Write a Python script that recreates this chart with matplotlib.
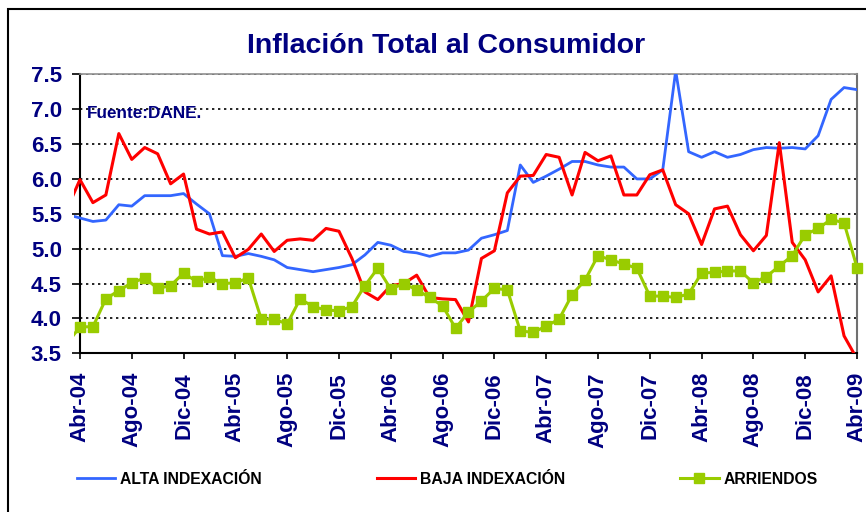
import matplotlib
matplotlib.use("Agg")
import matplotlib.pyplot as plt
from matplotlib.lines import Line2D
from matplotlib.patches import Rectangle
import numpy as np

plt.rcParams['font.family'] = ['Liberation Sans', 'DejaVu Sans']

# Mar-04 value (partly visible at the left edge), then Abr-04 .. Abr-09
pre_alta, pre_baja, pre_arriendos = 5.49, 5.57, 3.64

alta = [5.44, 5.39, 5.41, 5.63, 5.61, 5.76, 5.76, 5.76, 5.79, 5.64, 5.50, 4.90,
        4.89, 4.93, 4.89, 4.84, 4.73, 4.70, 4.67, 4.70, 4.73, 4.77, 4.91, 5.09,
        5.05, 4.96, 4.94, 4.89, 4.94, 4.94, 4.98, 5.15, 5.20, 5.26, 6.20, 5.95,
        6.04, 6.14, 6.25, 6.25, 6.20, 6.17, 6.17, 6.00, 6.00, 6.13, 7.55, 6.39,
        6.31, 6.39, 6.31, 6.35, 6.42, 6.45, 6.44, 6.45, 6.43, 6.62, 7.14, 7.31,
        7.28]
baja = [5.99, 5.66, 5.77, 6.65, 6.28, 6.45, 6.36, 5.93, 6.07, 5.28, 5.21, 5.24,
        4.87, 4.99, 5.21, 4.96, 5.12, 5.14, 5.12, 5.29, 5.25, 4.86, 4.38, 4.27,
        4.47, 4.50, 4.62, 4.30, 4.28, 4.27, 3.95, 4.86, 4.97, 5.80, 6.04, 6.05,
        6.35, 6.31, 5.77, 6.38, 6.26, 6.33, 5.77, 5.77, 6.06, 6.13, 5.63, 5.50,
        5.06, 5.57, 5.61, 5.20, 4.97, 5.19, 6.52, 5.09, 4.84, 4.38, 4.61, 3.75,
        3.42]
arriendos = [3.88, 3.88, 4.28, 4.40, 4.51, 4.58, 4.43, 4.47, 4.65, 4.53, 4.59, 4.50,
             4.51, 4.58, 3.99, 3.99, 3.92, 4.28, 4.17, 4.12, 4.11, 4.17, 4.47, 4.72,
             4.42, 4.50, 4.41, 4.30, 4.18, 3.86, 4.09, 4.25, 4.43, 4.41, 3.82, 3.80,
             3.89, 3.99, 4.34, 4.55, 4.90, 4.84, 4.78, 4.72, 4.32, 4.32, 4.30, 4.35,
             4.65, 4.66, 4.68, 4.68, 4.51, 4.60, 4.75, 4.90, 5.20, 5.29, 5.42, 5.37,
             4.73]

xtick_labels = ["Abr-04", "Ago-04", "Dic-04", "Abr-05", "Ago-05", "Dic-05",
                "Abr-06", "Ago-06", "Dic-06", "Abr-07", "Ago-07", "Dic-07",
                "Abr-08", "Ago-08", "Dic-08", "Abr-09"]
ytick_labels = ["3.5", "4.0", "4.5", "5.0", "5.5", "6.0", "6.5", "7.0", "7.5"]
series_names = ["ALTA INDEXACIÓN", "BAJA INDEXACIÓN", "ARRIENDOS"]

NAVY = '#000080'
BLUE = '#3366FF'
RED = '#FF0000'
GREEN = '#99CC00'

W, H = 866, 512
fig = plt.figure(figsize=(W / 100, H / 100), dpi=100)
ax = fig.add_axes([74 / W, 1 - 353.3 / H, (857 - 74) / W, (353.3 - 74.3) / H])

n = len(alta)
x = np.arange(-1, n)
ax.set_xlim(-0.46, n - 1)
ax.set_ylim(3.5, 7.5)

yvals = [float(v) for v in ytick_labels]
ax.hlines(yvals[1:], 0, n - 1, colors='black', linestyles=(0, (1.4, 2.2)),
          linewidth=1.2, zorder=1)

ax.plot(x, [pre_alta] + alta, color=BLUE, lw=2.0, zorder=3)
ax.plot(x, [pre_baja] + baja, color=RED, lw=2.2, zorder=4)
ax.plot(x, [pre_arriendos] + arriendos, color=GREEN, lw=2.2, zorder=5)
ax.plot(np.arange(n), arriendos, ls='none', marker='s', ms=7.5, color=GREEN,
        mec=GREEN, zorder=6, clip_on=False)

# spines
ax.spines['left'].set_position(('data', 0))
ax.spines['left'].set_linewidth(1.5)
ax.spines['bottom'].set_linewidth(1.5)
ax.spines['bottom'].set_bounds(0, n - 1)
ax.spines['top'].set_color('#909090')
ax.spines['top'].set_linewidth(1.2)
ax.spines['top'].set_bounds(0, n - 1)
ax.spines['right'].set_color('#707070')
ax.spines['right'].set_linewidth(1.5)

ax.set_yticks(yvals)
ax.set_yticklabels(ytick_labels)
ax.set_xticks(np.arange(0, n, 4))
ax.set_xticklabels(xtick_labels, rotation=90)
ax.tick_params(axis='y', direction='out', length=6, width=1.2, pad=7,
               labelsize=16, labelcolor=NAVY)
ax.tick_params(axis='x', direction='out', length=4.5, width=1.2, pad=9,
               labelsize=16, labelcolor=NAVY)
for lab in ax.get_xticklabels() + ax.get_yticklabels():
    lab.set_fontweight('bold')

fig.text(446 / W, 1 - 53 / H, 'Inflación Total al Consumidor', ha='center',
         va='baseline', fontsize=20.5, fontweight='bold', color=NAVY)
fig.text(87 / W, 1 - 118 / H, 'Fuente:DANE.', ha='left', va='baseline',
         fontsize=12.3, fontweight='bold', color=NAVY)

handles = [Line2D([], [], color=BLUE, lw=2.0),
           Line2D([], [], color=RED, lw=2.2),
           Line2D([], [], color=GREEN, lw=2.2, marker='s', ms=7.5, mec=GREEN)]
fig.legend(handles, series_names, loc='center left',
           bbox_to_anchor=(77 / W, 1 - 479 / H), ncol=3, frameon=False,
           handlelength=2.45, handletextpad=0.32, columnspacing=7.3,
           borderpad=0, borderaxespad=0,
           prop={'family': 'Liberation Sans', 'weight': 'bold', 'size': 11.3})

fig.patches.append(Rectangle((8 / W, -0.1), 2, 1.1 - 9 / H, transform=fig.transFigure,
                             fill=False, edgecolor='black', lw=1.5))

fig.savefig('out.png', dpi=100)
